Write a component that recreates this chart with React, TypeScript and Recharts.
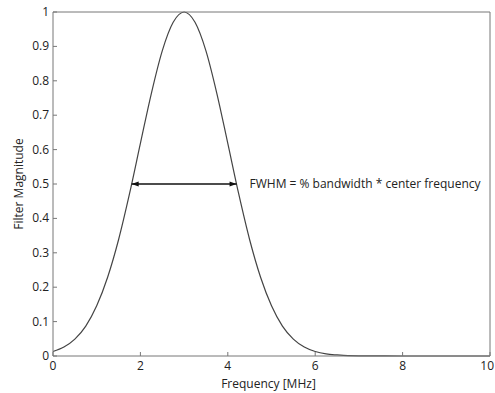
import React from "react";
import { LineChart, Line, XAxis, YAxis, ReferenceDot } from "recharts";

// Filter response (frequency in MHz, magnitude 0..1)
const freqMHz = [
  0, 0.25, 0.5, 0.75, 1, 1.25, 1.5, 1.75, 2, 2.25, 2.5, 2.75, 3, 3.25, 3.5,
  3.75, 4, 4.25, 4.5, 4.75, 5, 5.25, 5.5, 5.75, 6, 6.25, 6.5, 6.75, 7, 8, 10,
];
const magnitude = [
  0.013, 0.026, 0.049, 0.087, 0.146, 0.229, 0.338, 0.471, 0.618, 0.763, 0.887,
  0.97, 1, 0.97, 0.887, 0.763, 0.618, 0.471, 0.338, 0.229, 0.146, 0.087, 0.049,
  0.026, 0.013, 0.006, 0.003, 0.001, 0.0005, 0, 0,
];
const xTicks = [0, 2, 4, 6, 8, 10];
const yTicks = [0, 0.1, 0.2, 0.3, 0.4, 0.5, 0.6, 0.7, 0.8, 0.9, 1];
const fwhmFreqs = [1.8, 4.2];
const fwhmLevel = 0.5;
const note = "FWHM = % bandwidth * center frequency";

const curve = freqMHz.map((f, i) => ({ f, m: magnitude[i] }));
const arrow = fwhmFreqs.map((f) => ({ f, m: fwhmLevel }));

const FONT = "'Open Sans', 'DejaVu Sans', sans-serif";
const TEXT = "#222";
const FRAME = "#777";
const TICK_LEN = 4;
const FS = 12;

// ticks point into the plot, so each tick draws its own short line
const BottomTick = ({ x, y, payload, index, visibleTicksCount }: any) => {
  // the last label sits on the right edge of the window, keep it inside
  const last = index === visibleTicksCount - 1;
  return (
    <g>
      <line x1={x} y1={y} x2={x} y2={y - TICK_LEN} stroke={FRAME} />
      <text
        x={last ? x + 4 : x}
        y={y + 14}
        textAnchor={last ? "end" : "middle"}
        fill={TEXT}
        fontSize={FS}
        fontFamily={FONT}
      >
        {String(payload.value)}
      </text>
    </g>
  );
};

const LeftTick = ({ x, y, payload }: any) => (
  <g>
    <line x1={x} y1={y} x2={x + TICK_LEN} y2={y} stroke={FRAME} />
    <text x={x - 4} y={y + 4} textAnchor="end" fill={TEXT} fontSize={FS} fontFamily={FONT}>
      {String(payload.value)}
    </text>
  </g>
);

const TopTick = ({ x, y }: any) => (
  <line x1={x} y1={y} x2={x} y2={y + TICK_LEN} stroke={FRAME} />
);

const RightTick = ({ x, y }: any) => (
  <line x1={x} y1={y} x2={x - TICK_LEN} y2={y} stroke={FRAME} />
);

const YLabel = ({ viewBox }: any) => {
  const cx = viewBox.x + 5;
  const cy = viewBox.y + viewBox.height / 2;
  return (
    <text
      x={cx}
      y={cy}
      transform={`rotate(-90, ${cx}, ${cy})`}
      textAnchor="middle"
      dominantBaseline="central"
      fill={TEXT}
      fontSize={FS}
      fontFamily={FONT}
    >
      Filter Magnitude
    </text>
  );
};

const XLabel = ({ viewBox }: any) => (
  <text
    x={viewBox.x + viewBox.width / 2 - 3}
    y={viewBox.y + viewBox.height + 2}
    textAnchor="middle"
    fill={TEXT}
    fontSize={FS}
    fontFamily={FONT}
  >
    Frequency [MHz]
  </text>
);

const ArrowHead = ({ cx, cy, index }: any) => {
  const d = index === 0 ? 1 : -1;
  return (
    <polygon
      key={`head-${index}`}
      points={`${cx},${cy} ${cx + d * 7},${cy - 2.5} ${cx + d * 7},${cy + 2.5}`}
      fill="#111"
    />
  );
};

export default function App() {
  return (
    <div style={{ position: "absolute", left: 0, top: 0, background: "#fff", fontFamily: FONT }}>
      <LineChart width={495} height={393} margin={{ top: 11, right: 4, bottom: 7, left: 13 }}>
        <XAxis
          dataKey="f"
          type="number"
          domain={[0, 10]}
          ticks={xTicks}
          interval={0}
          height={30}
          tickSize={0}
          tickMargin={0}
          tickLine={false}
          tick={<BottomTick />}
          axisLine={{ stroke: FRAME }}
          label={XLabel}
        />
        <XAxis
          xAxisId="top"
          orientation="top"
          type="number"
          domain={[0, 10]}
          ticks={xTicks}
          interval={0}
          height={1}
          tickSize={0}
          tickMargin={0}
          tickLine={false}
          tick={<TopTick />}
          axisLine={{ stroke: FRAME }}
        />
        <YAxis
          type="number"
          domain={[0, 1]}
          ticks={yTicks}
          interval={0}
          width={40}
          tickSize={0}
          tickMargin={0}
          tickLine={false}
          tick={<LeftTick />}
          axisLine={{ stroke: FRAME }}
          label={YLabel}
        />
        <YAxis
          yAxisId="right"
          orientation="right"
          type="number"
          domain={[0, 1]}
          ticks={yTicks}
          interval={0}
          width={1}
          tickSize={0}
          tickMargin={0}
          tickLine={false}
          tick={<RightTick />}
          axisLine={{ stroke: FRAME }}
        />
        <Line
          data={curve}
          dataKey="m"
          type="monotone"
          stroke="#444"
          strokeWidth={1.2}
          dot={false}
          activeDot={false}
          isAnimationActive={false}
        />
        <Line
          data={arrow}
          dataKey="m"
          type="linear"
          stroke="#111"
          strokeWidth={1.3}
          dot={ArrowHead}
          activeDot={false}
          isAnimationActive={false}
        />
        <ReferenceDot
          x={fwhmFreqs[1]}
          y={fwhmLevel}
          r={0}
          fill="none"
          stroke="none"
          label={{ value: note, position: "right", offset: 13, fill: TEXT, fontSize: FS, fontFamily: FONT }}
        />
      </LineChart>
    </div>
  );
}
